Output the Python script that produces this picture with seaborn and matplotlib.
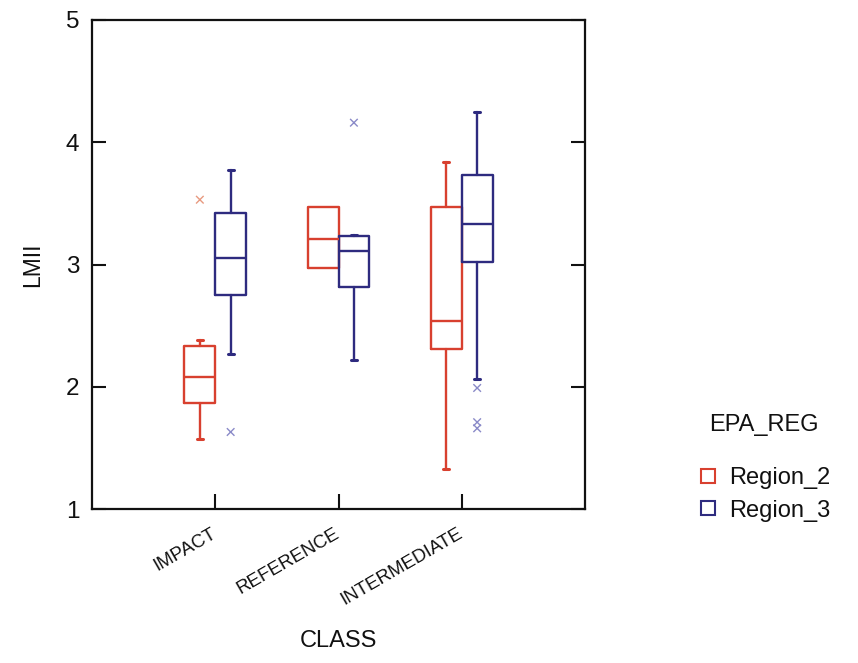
import matplotlib
matplotlib.use("Agg")
import matplotlib.pyplot as plt
import seaborn as sns
import pandas as pd
from matplotlib.lines import Line2D

# ---- data ----
categories = ["IMPACT", "REFERENCE", "INTERMEDIATE"]
regions = ["Region_2", "Region_3"]

r2_whislo = [1.57, 2.97, 1.33]
r2_q1     = [1.87, 2.97, 2.31]
r2_med    = [2.08, 3.21, 2.54]
r2_q3     = [2.33, 3.47, 3.47]
r2_whishi = [2.38, 3.47, 3.84]
r2_fliers = [[3.53], [], []]

r3_whislo = [2.27, 2.22, 2.06]
r3_q1     = [2.75, 2.82, 3.02]
r3_med    = [3.05, 3.11, 3.33]
r3_q3     = [3.42, 3.23, 3.73]
r3_whishi = [3.77, 3.245, 4.25]
r3_fliers = [[1.63], [4.16], [1.99, 1.71, 1.66]]

red = "#d8402f"
blue = "#2e2b7f"
red_fl = "#e89a80"
blue_fl = "#8a8ac8"

sns.set_style("ticks")
plt.rcParams["font.family"] = ["Liberation Sans", "DejaVu Sans"]
plt.rcParams["text.color"] = "#111111"
plt.rcParams["axes.labelcolor"] = "#111111"
plt.rcParams["xtick.color"] = "#111111"
plt.rcParams["ytick.color"] = "#111111"

fig = plt.figure(figsize=(8.58, 6.63), dpi=100)
ax = fig.add_axes([92/858, 1-509/663, (585-92)/858, (509-20)/663])

def stats(wl, q1, md, q3, wh):
    return [dict(whislo=a, q1=b, med=c, q3=d, whishi=e, fliers=[])
            for a, b, c, d, e in zip(wl, q1, md, q3, wh)]

def caps(wl, q1, q3, wh):
    # no cap drawn where the whisker has zero length
    return [0.0 if (a == b and d == e) else 0.05 for a, b, d, e in zip(wl, q1, q3, wh)]

offset = 0.125
bw = 0.25
pos = list(range(len(categories)))
for st, cw, col, off in [
    (stats(r2_whislo, r2_q1, r2_med, r2_q3, r2_whishi), caps(r2_whislo, r2_q1, r2_q3, r2_whishi), red, -offset),
    (stats(r3_whislo, r3_q1, r3_med, r3_q3, r3_whishi), caps(r3_whislo, r3_q1, r3_q3, r3_whishi), blue, offset),
]:
    ax.bxp(st, positions=[p + off for p in pos], widths=bw, capwidths=cw,
           showfliers=False, manage_ticks=False,
           boxprops=dict(color=col, linewidth=1.7),
           medianprops=dict(color=col, linewidth=1.7),
           whiskerprops=dict(color=col, linewidth=1.7),
           capprops=dict(color=col, linewidth=2.2))

# outliers
rows = []
for i, fl in enumerate(r2_fliers):
    for v in fl:
        rows.append(dict(x=i - offset, y=v, reg="Region_2"))
for i, fl in enumerate(r3_fliers):
    for v in fl:
        rows.append(dict(x=i + offset, y=v, reg="Region_3"))
df_fl = pd.DataFrame(rows)
sns.scatterplot(data=df_fl, x="x", y="y", hue="reg", palette={"Region_2": red_fl, "Region_3": blue_fl},
                marker="x", s=30, linewidth=1.0, legend=False, ax=ax, zorder=3)

ax.set_xlim(-1, 3)
ax.set_ylim(1, 5)
ax.set_xticks(pos)
ax.set_xticklabels(categories, rotation=30, ha="right", va="center",
                   rotation_mode="anchor", fontsize=13.5)
ax.set_yticks([1, 2, 3, 4, 5])
ax.set_yticklabels(["1", "2", "3", "4", "5"], fontsize=17.5)
ax.tick_params(axis="x", direction="in", length=11, width=1.5, pad=17)
ax.tick_params(axis="y", direction="in", length=10, width=1.5, left=True, right=True, pad=9)
for sp in ax.spines.values():
    sp.set_linewidth(1.6)
    sp.set_visible(True)
    sp.set_color("#111111")
ax.set_xlabel("CLASS", fontsize=17, labelpad=15)
ax.set_ylabel("LMII", fontsize=16.5, labelpad=16)

handles = [Line2D([], [], marker="s", linestyle="none", markersize=10, markerfacecolor="none",
                  markeredgecolor=c, markeredgewidth=1.5) for c in [red, blue]]
leg = fig.legend(handles, regions, title="EPA_REG", loc="center left",
                 bbox_to_anchor=(677/858, 1-468/663), frameon=False, fontsize=17,
                 title_fontsize=17, handlelength=0.8, handletextpad=0.5, labelspacing=0.45)
leg._legend_box.sep = 22

fig.savefig("out.png", dpi=100)
